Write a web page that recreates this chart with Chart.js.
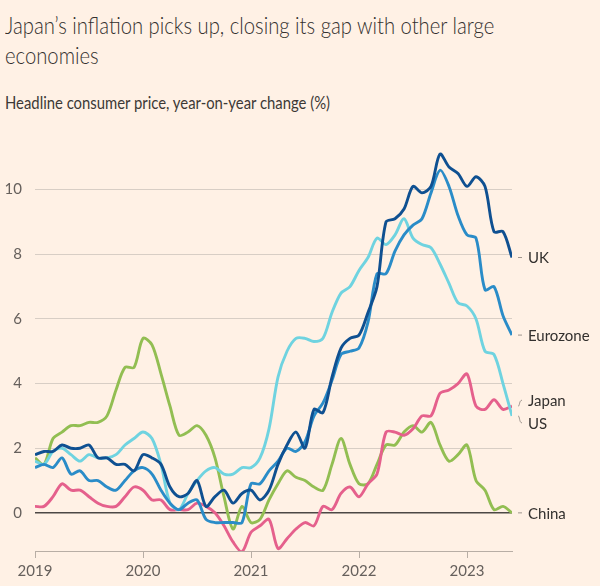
<!DOCTYPE html>
<html>
<head>
<meta charset="utf-8">
<script src="https://cdn.jsdelivr.net/npm/chart.js@4.4.0/dist/chart.umd.min.js"></script>
<style>
  html, body { margin: 0; padding: 0; background: #fff1e5; }
  body { width: 600px; height: 586px; position: relative; overflow: hidden; font-family: Lato, "Noto Sans", sans-serif; color: #33302e; }
  #title { position: absolute; left: 5px; top: 10px; font-size: 23px; font-weight: 300; line-height: 30px; white-space: nowrap; transform: scaleX(0.88); transform-origin: left top; }
  #subtitle { position: absolute; left: 5px; top: 93px; font-size: 16.5px; white-space: nowrap; color: #3d3936; transform: scaleX(0.9); transform-origin: left top; }
  #wrap { position: absolute; left: 0; top: 0; width: 600px; height: 586px; }
</style>
</head>
<body>
<div id="title">Japan’s inflation picks up, closing its gap with other large<br>economies</div>
<div id="subtitle">Headline consumer price, year-on-year change (%)</div>
<div id="wrap"><canvas id="chart"></canvas></div>
<script>
// Monthly, Jan 2019 - Jun 2023
const months = [];
for (let y = 2019; y <= 2023; y++) {
  for (let m = 1; m <= 12; m++) {
    if (y === 2023 && m > 6) break;
    months.push(y + '-' + String(m).padStart(2, '0'));
  }
}

const yearTicks = ['2019', '2020', '2021', '2022', '2023'];
const yTicks = [0, 2, 4, 6, 8, 10];

const ukValues = [
  1.8, 1.9, 1.9, 2.1, 2.0, 2.0, 2.1, 1.7, 1.7, 1.5, 1.5, 1.3,
  1.8, 1.7, 1.5, 0.8, 0.5, 0.6, 1.0, 0.2, 0.5, 0.7, 0.3, 0.6,
  0.7, 0.4, 0.7, 1.5, 2.1, 2.5, 2.0, 3.2, 3.1, 4.2, 5.1, 5.4,
  5.5, 6.2, 7.0, 9.0, 9.1, 9.4, 10.1, 9.9, 10.1, 11.1, 10.7, 10.5,
  10.1, 10.4, 10.1, 8.7, 8.7, 7.9
];
const eurozoneValues = [
  1.4, 1.5, 1.4, 1.7, 1.2, 1.3, 1.0, 1.0, 0.8, 0.7, 1.0, 1.3,
  1.4, 1.2, 0.7, 0.3, 0.1, 0.3, 0.4, -0.2, -0.3, -0.3, -0.3, -0.3,
  0.9, 0.9, 1.3, 1.6, 2.0, 1.9, 2.2, 3.0, 3.4, 4.1, 4.9, 5.0,
  5.1, 5.9, 7.4, 7.4, 8.1, 8.6, 8.9, 9.1, 9.9, 10.6, 10.1, 9.2,
  8.6, 8.5, 6.9, 7.0, 6.1, 5.5
];
const usValues = [
  1.6, 1.5, 1.9, 2.0, 1.8, 1.6, 1.8, 1.7, 1.7, 1.8, 2.1, 2.3,
  2.5, 2.3, 1.5, 0.3, 0.1, 0.6, 1.0, 1.3, 1.4, 1.2, 1.2, 1.4,
  1.4, 1.7, 2.6, 4.2, 5.0, 5.4, 5.4, 5.3, 5.4, 6.2, 6.8, 7.0,
  7.5, 7.9, 8.5, 8.3, 8.6, 9.1, 8.5, 8.3, 8.2, 7.7, 7.1, 6.5,
  6.4, 6.0, 5.0, 4.9, 4.0, 3.0
];
const japanValues = [
  0.2, 0.2, 0.5, 0.9, 0.7, 0.7, 0.5, 0.3, 0.2, 0.2, 0.5, 0.8,
  0.7, 0.4, 0.4, 0.1, 0.1, 0.1, 0.3, 0.2, 0.0, -0.4, -0.9, -1.2,
  -0.6, -0.4, -0.2, -1.1, -0.8, -0.5, -0.3, -0.4, 0.2, 0.1, 0.6, 0.8,
  0.5, 0.9, 1.2, 2.5, 2.5, 2.4, 2.6, 3.0, 3.0, 3.7, 3.8, 4.0,
  4.3, 3.3, 3.2, 3.5, 3.2, 3.3
];
const chinaValues = [
  1.7, 1.5, 2.3, 2.5, 2.7, 2.7, 2.8, 2.8, 3.0, 3.8, 4.5, 4.5,
  5.4, 5.2, 4.3, 3.3, 2.4, 2.5, 2.7, 2.4, 1.7, 0.5, -0.5, 0.2,
  -0.3, -0.2, 0.4, 0.9, 1.3, 1.1, 1.0, 0.8, 0.7, 1.5, 2.3, 1.5,
  0.9, 0.9, 1.5, 2.1, 2.1, 2.5, 2.7, 2.5, 2.8, 2.1, 1.6, 1.8,
  2.1, 1.0, 0.7, 0.1, 0.2, 0.0
];

// first dataset is drawn on top
const series = [
  { name: 'UK', values: ukValues, color: '#0f5091', labelShift: 0 },
  { name: 'Eurozone', values: eurozoneValues, color: '#2a8cc8', labelShift: 0 },
  { name: 'US', values: usValues, color: '#6fd3e0', labelShift: 7 },
  { name: 'Japan', values: japanValues, color: '#e5608c', labelShift: -6 },
  { name: 'China', values: chinaValues, color: '#92be52', labelShift: 0 }
];

const textColor = '#33302e';
const tickColor = '#66605c';

// labels at the right end of each line
const endLabelPlugin = {
  id: 'endLabels',
  afterDraw(chart) {
    const ctx = chart.ctx;
    const yScale = chart.scales.y;
    const right = chart.chartArea.right;
    ctx.save();
    ctx.font = '15px Lato, "Noto Sans", sans-serif';
    ctx.fillStyle = textColor;
    ctx.textBaseline = 'middle';
    ctx.strokeStyle = '#9e958d';
    ctx.lineWidth = 1;
    series.forEach(s => {
      const last = s.values[s.values.length - 1];
      const py = yScale.getPixelForValue(last);
      const ly = py + s.labelShift;
      ctx.beginPath();
      if (s.labelShift === 0) {
        ctx.moveTo(right + 6, ly);
        ctx.lineTo(right + 10, ly);
      } else {
        ctx.moveTo(right + 6, py);
        ctx.bezierCurveTo(right + 8, py, right + 7, ly, right + 10, ly);
      }
      ctx.stroke();
      ctx.fillText(s.name, right + 16, ly + 1);
    });
    ctx.restore();
  }
};

new Chart(document.getElementById('chart'), {
  type: 'line',
  data: {
    labels: months,
    datasets: series.map(s => ({
      label: s.name,
      data: s.values.map((v, i) => ({ x: i, y: v })),
      borderColor: s.color,
      backgroundColor: s.color,
      borderWidth: 2.9,
      pointRadius: 0,
      tension: 0.3,
      fill: false
    }))
  },
  options: {
    responsive: true,
    maintainAspectRatio: false,
    animation: false,
    layout: { padding: { top: 125, right: 88, left: 0, bottom: 0 } },
    plugins: {
      legend: { display: false },
      tooltip: { enabled: false }
    },
    scales: {
      x: {
        type: 'linear',
        min: 0,
        max: months.length - 1,
        afterBuildTicks: scale => { scale.ticks = yearTicks.map((y, i) => ({ value: i * 12 })); },
        afterFit: scale => { scale.height = 35; },
        border: { display: true, color: '#b8aea5', width: 1 },
        grid: { drawOnChartArea: false, drawTicks: true, tickLength: 7, color: '#b8aea5' },
        ticks: {
          padding: 4,
          color: tickColor,
          font: { family: 'Lato, "Noto Sans", sans-serif', size: 15 },
          maxRotation: 0,
          autoSkip: false,
          callback: v => yearTicks[v / 12]
        }
      },
      y: {
        min: -1.18,
        max: 12,
        afterBuildTicks: scale => { scale.ticks = yTicks.map(v => ({ value: v })); },
        afterFit: scale => { scale.width = 35; },
        border: { display: false },
        grid: {
          drawTicks: false,
          color: c => (c.tick && c.tick.value === 0) ? '#4d4845' : '#d8cec5',
          lineWidth: c => (c.tick && c.tick.value === 0) ? 1.5 : 1
        },
        ticks: {
          padding: 13,
          color: tickColor,
          font: { family: 'Lato, "Noto Sans", sans-serif', size: 15 }
        }
      }
    }
  },
  plugins: [endLabelPlugin]
});
</script>
</body>
</html>
